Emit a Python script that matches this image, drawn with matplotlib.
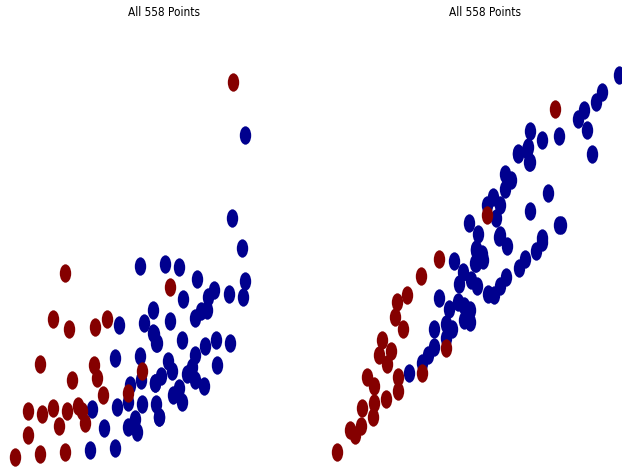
import numpy as np
import matplotlib
matplotlib.use('Agg')
import matplotlib.pyplot as plt
from matplotlib import font_manager
from matplotlib.path import Path
from matplotlib.transforms import Affine2D

left_red_x = [65, 52.7, 69.3, 94.7, 106.7, 40, 94, 71.7, 97, 142, 103.3, 128.3,
              27.7, 41.7, 52.7, 66.7, 77.7, 81.7, 59.3, 84.7, 28.3, 15, 40, 65.3,
              169.7, 233]
left_red_y = [273, 318.7, 329.3, 327.3, 318.7, 364.3, 364.7, 380, 377.7, 371, 395, 393.3,
              410.7, 413.7, 408.3, 411.3, 406, 410.7, 426, 423.3, 435, 456.7, 454.3, 452,
              287.3, 82]
left_blue_x = [140.3, 119.3, 153, 144.3, 153.7, 156, 115.3, 140.3, 130.3, 141, 155,
               128, 142, 116.7, 91.7, 156.3, 134.7, 128.3, 137.3, 103.7, 159, 90, 115.3,
               241.7, 165.3, 179.3, 245, 197.3, 214, 208, 228.7, 242.7, 183, 201, 206.7,
               195, 169.7, 153.3, 156.7, 181.7, 216, 205.3, 230.3, 194.7, 168.3, 172,
               192, 217, 161, 186.7, 154.7, 195, 204.3, 178.7, 173, 182, 159.3,
               244.7, 232]
left_blue_y = [266, 325, 309.7, 322.7, 334, 342.7, 358, 355.7, 385, 380.3, 383,
               402, 404.3, 406.7, 409, 404, 419, 426.7, 432.3, 428, 417, 450, 447.7,
               248.3, 263.7, 266.7, 280.7, 279, 290, 296.7, 294.3, 297.3, 299, 310.7, 310,
               318.3, 320.7, 333.3, 343.3, 340, 340, 345.7, 343.3, 355.3, 360.7, 370.7,
               366.7, 364.7, 375.7, 373.7, 383.3, 380, 386.3, 387.7, 395.3, 401.7, 416.7,
               134.7, 217.7]

right_red_x = [439, 420.7, 406.7, 396.7, 394.7, 403.3, 382, 391, 379.3, 386.7, 446,
               422.3, 367.3, 374.3, 398, 397.7, 385.7, 374, 362.3, 373.3, 361.3, 350,
               355.3, 337.3, 487.3, 555.3]
right_red_y = [258.7, 276, 295.3, 302, 317.3, 329, 339.7, 350.7, 355.3, 364, 347.7,
               373.3, 377, 385.7, 376.7, 391, 399.3, 403.3, 407.7, 417.3, 425.7, 430,
               435.3, 452, 215.5, 109]
right_blue_x = [454, 475.7, 475.3, 463.3, 459.3, 470.7, 476.7, 439.3, 458, 464, 470,
                448.7, 464.3, 470, 446, 451.7, 434.3, 446, 433.7, 428.3, 422, 409.3,
                517.7, 526.7, 529.7, 505.3, 511, 504.7, 493.3, 500.3, 487.3, 496.3,
                547.7, 530, 558.7, 469, 478.3, 499.3, 507, 542.3, 536.3, 524.7, 518.7,
                476, 482, 483.3, 476, 506, 500, 487.7, 494.3, 619.3, 602, 596, 583.7,
                577.7, 587, 592, 559.3, 541.7, 530.3, 528, 518, 529.3, 499.7, 560.7,
                542.3]
right_blue_y = [261, 250, 263.3, 272, 284.3, 280, 286, 298.3, 301.7, 305.7, 310,
                309.3, 320, 321.7, 324.3, 329.3, 329, 338.3, 346.7, 355, 363.3, 373.3,
                154, 150, 162.3, 174.3, 180, 189.3, 196.7, 205, 205.3, 218.3,
                193.3, 211, 225, 223.3, 234.3, 237.3, 245.7, 241.7, 251, 259.3, 267.7,
                249.3, 253.7, 260, 263.3, 276.7, 286, 294.3, 295, 75, 92.3, 101.7, 110,
                118.7, 129.7, 154, 136, 140, 130.7, 146.7, 152.7, 162, 235, 224.7,
                238.3]

title = 'All 558 Points'
red = '#850000'
blue = '#00008e'

# narrow upright font for the titles if one is around
names = {f.name for f in font_manager.fontManager.ttflist}
cond = [f for f in font_manager.fontManager.ttflist
        if f.name == 'DejaVu Sans' and f.stretch == 'condensed'
        and f.style == 'normal' and f.weight in (400, 'normal')]
if 'Liberation Sans Narrow' in names:
    fp = font_manager.FontProperties(family='Liberation Sans Narrow', size=9.5)
elif cond:
    fp = font_manager.FontProperties(fname=cond[0].fname, size=8.5)
else:
    fp = font_manager.FontProperties(family='DejaVu Sans', size=7.5)

# tall ellipse marker
ell = Path.unit_circle().transformed(Affine2D().scale(0.62, 1.0))

fig = plt.figure(figsize=(6.22, 4.69), dpi=100)
W, H = 622, 469

ax1 = fig.add_axes([0, 0, 0.5, 1])
ax1.set_xlim(0, 311)
ax1.set_ylim(469, 0)
ax1.axis('off')
ax1.scatter(left_blue_x, left_blue_y, s=175, marker=ell, color=blue, linewidths=0)
ax1.scatter(left_red_x, left_red_y, s=175, marker=ell, color=red, linewidths=0)

ax2 = fig.add_axes([0.5, 0, 0.5, 1])
ax2.set_xlim(311, 622)
ax2.set_ylim(469, 0)
ax2.axis('off')
ax2.scatter(right_blue_x, right_blue_y, s=175, marker=ell, color=blue, linewidths=0)
ax2.scatter(right_red_x, right_red_y, s=175, marker=ell, color=red, linewidths=0)

fig.text(164 / W, 1 - 12 / H, title, ha='center', va='center', fontproperties=fp)
fig.text(485 / W, 1 - 12 / H, title, ha='center', va='center', fontproperties=fp)

fig.savefig('out.png', dpi=100)
